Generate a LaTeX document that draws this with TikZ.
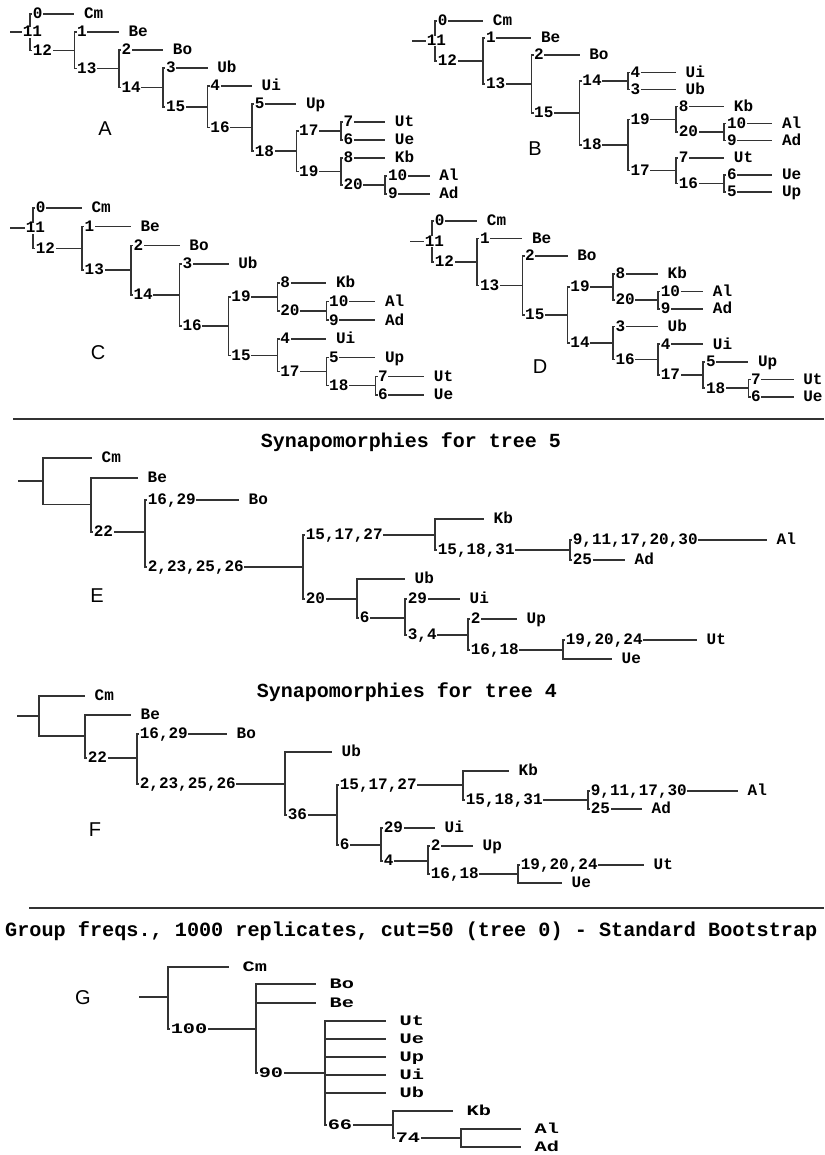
\documentclass[tikz,border=0pt]{standalone}
\usepackage{fontspec}
\newfontfamily\monof{Liberation Mono}
\newfontfamily\monow{Liberation Mono}[FakeStretch=1.4]
\newfontfamily\sansf{Liberation Sans}
\newcommand\tfont{\monof\bfseries\fontsize{16}{18}\selectfont}
\newcommand\tth{9.6pt}
% root: name, xstart, xvertical, y
\newcommand\trRt[4]{\coordinate (#1s) at (#2,#4); \coordinate (#1) at (#3,#4); \draw[tbr] (#1s) -- (#1);}
% unlabelled node: name, parent, x, y
\newcommand\trUn[4]{\coordinate (#1) at (#3,#4); \draw[tbr] (#2) |- (#1);}
% labelled node: name, parent, x, y, label
\newcommand\trIn[5]{\trUn{#1}{#2}{#3}{#4}\node[tnum] (#1l) at (#2 |- #1) {#5};}
% labelled leaf: name, parent, xend, y, label, taxon
\newcommand\trLf[6]{\trIn{#1}{#2}{#3}{#4}{#5}\node[ttax] (#1t) at (#1) {#6};}
% unlabelled leaf: name, parent, xend, y, taxon
\newcommand\trLu[5]{\trUn{#1}{#2}{#3}{#4}\node[ttax] (#1t) at (#1) {#5};}
\tikzset{
  tbr/.style={draw=black!80, line width=1.5pt},
  tlab/.style={fill=white, inner xsep=0.6pt, inner ysep=0.6pt, font=\tfont, text height=\tth, text depth=0pt},
  tnum/.style={tlab, anchor=west, xshift=2pt},
  troot/.style={tlab, anchor=west},
  ttax/.style={anchor=west, inner sep=0pt, xshift=9.5pt, font=\tfont, text height=\tth, text depth=0pt},
  ttitle/.style={inner sep=0pt, font=\monof\bfseries\fontsize{20}{24}\selectfont},
  tpanel/.style={inner sep=0pt, font=\sansf\fontsize{20}{24}\selectfont},
  trule/.style={draw=black!80, line width=2.2pt}
}
\begin{document}
\begin{tikzpicture}[x=1pt,y=-1pt]
\useasboundingbox[fill=white] (0,0) rectangle (824,1155);

% ---------------- Tree A ----------------
\trRt{A11}{10}{30}{32.2}
\trLf{A0}{A11}{74.4}{14}{0}{Cm}
\trIn{A12}{A11}{74.4}{50.35}{12}
\trLf{A1}{A12}{118.8}{32}{1}{Be}
\trIn{A13}{A12}{118.8}{68.7}{13}
\trLf{A2}{A13}{163.2}{50}{2}{Bo}
\trIn{A14}{A13}{163.2}{87.4}{14}
\trLf{A3}{A14}{207.6}{68}{3}{Ub}
\trIn{A15}{A14}{207.6}{106.8}{15}
\trLf{A4}{A15}{252}{86}{4}{Ui}
\trIn{A16}{A15}{252}{127.6}{16}
\trLf{A5}{A16}{296.4}{104}{5}{Up}
\trIn{A18}{A16}{296.4}{151.25}{18}
\trIn{A17}{A18}{340.8}{131}{17}
\trLf{A7}{A17}{385.2}{122}{7}{Ut}
\trLf{A6}{A17}{385.2}{140}{6}{Ue}
\trIn{A19}{A18}{340.8}{171.5}{19}
\trLf{A8}{A19}{385.2}{158}{8}{Kb}
\trIn{A20}{A19}{385.2}{185}{20}
\trLf{A10}{A20}{429.6}{176}{10}{Al}
\trLf{A9}{A20}{429.6}{194}{9}{Ad}
\node[troot] (A11l) at (22,32.2) {11};
\node[tpanel] (pA) at (105,129) {A};

% ---------------- Tree B ----------------
\trRt{B11}{412}{435}{41}
\trLf{B0}{B11}{483.2}{21}{0}{Cm}
\trIn{B12}{B11}{483.2}{61.1}{12}
\trLf{B1}{B12}{531.4}{38.1}{1}{Be}
\trIn{B13}{B12}{531.4}{84.05}{13}
\trLf{B2}{B13}{579.6}{55.2}{2}{Bo}
\trIn{B15}{B13}{579.6}{112.9}{15}
\trIn{B14}{B15}{627.8}{80.85}{14}
\trLf{B4}{B14}{676}{72.3}{4}{Ui}
\trLf{B3}{B14}{676}{89.4}{3}{Ub}
\trIn{B18}{B15}{627.8}{145}{18}
\trIn{B19}{B18}{676}{119.3}{19}
\trLf{B8}{B19}{724.2}{106.5}{8}{Kb}
\trIn{B20}{B19}{724.2}{132.15}{20}
\trLf{B10}{B20}{772.4}{123.6}{10}{Al}
\trLf{B9}{B20}{772.4}{140.7}{9}{Ad}
\trIn{B17}{B18}{676}{170.6}{17}
\trLf{B7}{B17}{724.2}{157.8}{7}{Ut}
\trIn{B16}{B17}{724.2}{183.45}{16}
\trLf{B6}{B16}{772.4}{174.9}{6}{Ue}
\trLf{B5}{B16}{772.4}{192}{5}{Up}
\node[troot] (B11l) at (426,41) {11};
\node[tpanel] (pB) at (535,149) {B};

% ---------------- Tree C ----------------
\trRt{C11}{10}{33}{228.2}
\trLf{C0}{C11}{81.9}{208}{0}{Cm}
\trIn{C12}{C11}{81.9}{248.5}{12}
\trLf{C1}{C12}{130.8}{226.7}{1}{Be}
\trIn{C13}{C12}{130.8}{270.2}{13}
\trLf{C2}{C13}{179.7}{245.4}{2}{Bo}
\trIn{C14}{C13}{179.7}{295}{14}
\trLf{C3}{C14}{228.6}{264.1}{3}{Ub}
\trIn{C16}{C14}{228.6}{326}{16}
\trIn{C19}{C16}{277.5}{296.8}{19}
\trLf{C8}{C19}{326.4}{282.8}{8}{Kb}
\trIn{C20}{C19}{326.4}{310.9}{20}
\trLf{C10}{C20}{375.3}{301.5}{10}{Al}
\trLf{C9}{C20}{375.3}{320.2}{9}{Ad}
\trIn{C15}{C16}{277.5}{355.3}{15}
\trLf{C4}{C15}{326.4}{338.9}{4}{Ui}
\trIn{C17}{C15}{326.4}{371.6}{17}
\trLf{C5}{C17}{375.3}{357.6}{5}{Up}
\trIn{C18}{C17}{375.3}{385.7}{18}
\trLf{C7}{C18}{424.2}{376.3}{7}{Ut}
\trLf{C6}{C18}{424.2}{395}{6}{Ue}
\node[troot] (C11l) at (25,228.2) {11};
\node[tpanel] (pC) at (98,353) {C};

% ---------------- Tree D ----------------
\trRt{D11}{410}{432}{241.6}
\trLf{D0}{D11}{477.2}{221}{0}{Cm}
\trIn{D12}{D11}{477.2}{262.1}{12}
\trLf{D1}{D12}{522.4}{238.6}{1}{Be}
\trIn{D13}{D12}{522.4}{285.6}{13}
\trLf{D2}{D13}{567.6}{256.2}{2}{Bo}
\trIn{D15}{D13}{567.6}{315}{15}
\trIn{D19}{D15}{612.8}{287}{19}
\trLf{D8}{D19}{658}{273.8}{8}{Kb}
\trIn{D20}{D19}{658}{300.2}{20}
\trLf{D10}{D20}{703.2}{291.4}{10}{Al}
\trLf{D9}{D20}{703.2}{309}{9}{Ad}
\trIn{D14}{D15}{612.8}{343.1}{14}
\trLf{D3}{D14}{658}{326.6}{3}{Ub}
\trIn{D16}{D14}{658}{359.6}{16}
\trLf{D4}{D16}{703.2}{344.2}{4}{Ui}
\trIn{D17}{D16}{703.2}{375}{17}
\trLf{D5}{D17}{748.4}{361.8}{5}{Up}
\trIn{D18}{D17}{748.4}{388.2}{18}
\trLf{D7}{D18}{793.6}{379.4}{7}{Ut}
\trLf{D6}{D18}{793.6}{397}{6}{Ue}
\node[troot] (D11l) at (424,241.6) {11};
\node[tpanel] (pD) at (540,367) {D};

% ---------------- rule 1 + title ----------------
\coordinate (r1a) at (13,419); \coordinate (r1b) at (824,419);
\draw[trule] (r1a) -- (r1b);
\node[ttitle] (t5) at (411,442) {Synapomorphies for tree 5};

% ---------------- Tree E ----------------
\trRt{Er}{18}{43}{481}
\trLu{Ecm}{Er}{92}{458}{Cm}
\trUn{En1}{Er}{91}{504.5}
\trLu{Ebe}{En1}{138}{478}{Be}
\trIn{E22}{En1}{145}{532}{22}
\trLf{Ebo}{E22}{239}{500}{16,29}{Bo}
\trIn{Ex}{E22}{303}{567}{2,23,25,26}
\trIn{Ey}{Ex}{435}{535}{15,17,27}
\trLu{Ekb}{Ey}{484}{519}{Kb}
\trIn{Ez}{Ey}{570}{550}{15,18,31}
\trLf{Eal}{Ez}{767}{540}{9,11,17,20,30}{Al}
\trLf{Ead}{Ez}{625}{560}{25}{Ad}
\trIn{E20}{Ex}{357}{599}{20}
\trLu{Eub}{E20}{405}{579}{Ub}
\trIn{E6}{E20}{405}{618}{6}
\trLf{Eui}{E6}{460}{599}{29}{Ui}
\trIn{E34}{E6}{468}{635}{3,4}
\trLf{Eup}{E34}{517}{619}{2}{Up}
\trIn{E1618}{E34}{563}{650}{16,18}
\trLf{Eut}{E1618}{697}{640}{19,20,24}{Ut}
\trLu{Eue}{E1618}{612}{659}{Ue}
\node[tpanel] (pE) at (97,596) {E};

% ---------------- title F ----------------
\node[ttitle] (t4) at (407,692) {Synapomorphies for tree 4};

% ---------------- Tree F ----------------
\trRt{Fr}{17}{39}{716}
\trLu{Fcm}{Fr}{85}{696}{Cm}
\trUn{Fn1}{Fr}{85}{736}
\trLu{Fbe}{Fn1}{131}{715}{Be}
\trIn{F22}{Fn1}{137}{758}{22}
\trLf{Fbo}{F22}{227}{734}{16,29}{Bo}
\trIn{Fx}{F22}{285}{784}{2,23,25,26}
\trLu{Fub}{Fx}{332}{752}{Ub}
\trIn{F36}{Fx}{337}{815}{36}
\trIn{Fy}{F36}{463}{785}{15,17,27}
\trLu{Fkb}{Fy}{509}{771}{Kb}
\trIn{Fz}{Fy}{588}{800}{15,18,31}
\trLf{Fal}{Fz}{738}{791}{9,11,17,30}{Al}
\trLf{Fad}{Fz}{642}{809}{25}{Ad}
\trIn{F6}{F36}{381}{845}{6}
\trLf{Fui}{F6}{435}{828}{29}{Ui}
\trIn{F4}{F6}{428}{861}{4}
\trLf{Fup}{F4}{473}{846}{2}{Up}
\trIn{F1618}{F4}{518}{874}{16,18}
\trLf{Fut}{F1618}{644}{865}{19,20,24}{Ut}
\trLu{Fue}{F1618}{562}{883}{Ue}
\node[tpanel] (pF) at (95,830) {F};

% ---------------- rule 2 + title ----------------
\coordinate (r2a) at (29,908); \coordinate (r2b) at (824,908);
\draw[trule] (r2a) -- (r2b);
\node[ttitle, anchor=west, font=\monof\bfseries\fontsize{20.2}{24}\selectfont] (tg) at (5,931) {Group freqs., 1000 replicates, cut=50 (tree 0) - Standard Bootstrap};

% ---------------- Tree G ----------------
\renewcommand\tfont{\monow\bfseries\fontsize{14.5}{16}\selectfont}
\renewcommand\tth{8.4pt}
\begin{scope}[ttax/.append style={xshift=4pt}]
\trRt{Gr}{139}{168}{997}
\trLu{Gcm}{Gr}{229}{967}{Cm}
\trIn{G100}{Gr}{256}{1029}{100}
\trLu{Gbo}{G100}{316}{984}{Bo}
\trLu{Gbe}{G100}{316}{1003}{Be}
\trIn{G90}{G100}{325}{1073}{90}
\trLu{Gut}{G90}{386}{1021}{Ut}
\trLu{Gue}{G90}{386}{1039}{Ue}
\trLu{Gup}{G90}{386}{1057}{Up}
\trLu{Gui}{G90}{386}{1075}{Ui}
\trLu{Gub}{G90}{386}{1093}{Ub}
\trIn{G66}{G90}{393}{1125}{66}
\trLu{Gkb}{G66}{453}{1111}{Kb}
\trIn{G74}{G66}{461}{1138}{74}
\trLu{Gal}{G74}{521}{1129}{Al}
\trLu{Gad}{G74}{521}{1147}{Ad}
\end{scope}
\node[tpanel] (pG) at (83,998) {G};
\end{tikzpicture}
\end{document}
